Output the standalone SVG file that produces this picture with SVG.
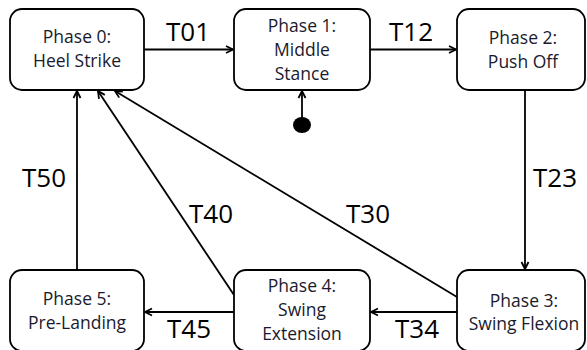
<svg xmlns="http://www.w3.org/2000/svg" width="587" height="350" viewBox="0 0 587 350">
<style>
.box{fill:#fff;stroke:#000;stroke-width:1.8}
.t{font-family:"Open Sans","Liberation Sans",sans-serif;font-size:17.5px;fill:#1a1a2e;text-anchor:middle}
.l{font-family:"Open Sans","Liberation Sans",sans-serif;font-size:26px;fill:#000;text-anchor:middle}
.e{stroke:#000;stroke-width:1.8;fill:none;marker-end:url(#ah)}
</style>
<defs>
<marker id="ah" viewBox="0 0 10 10" refX="9" refY="5" markerWidth="10" markerHeight="10" markerUnits="userSpaceOnUse" orient="auto">
<path d="M2,1.5 L9,5 L2,8.5" fill="none" stroke="#000" stroke-width="1.8"/>
</marker>
</defs>
<rect width="587" height="350" fill="#fff"/>
<g id="connectors">
<line class="e" x1="144" y1="49.5" x2="233" y2="49.5"/>
<line class="e" x1="370" y1="49.5" x2="456" y2="49.5"/>
<line class="e" x1="525" y1="90" x2="525" y2="269"/>
<line class="e" x1="457" y1="312" x2="371" y2="312"/>
<line class="e" x1="234" y1="312" x2="145" y2="312"/>
<line class="e" x1="77" y1="270" x2="77" y2="91"/>
<line class="e" x1="234" y1="295" x2="98" y2="91"/>
<line class="e" x1="457" y1="297" x2="115" y2="91"/>
<line class="e" x1="302" y1="125" x2="302" y2="91"/>
<ellipse cx="302" cy="125" rx="9" ry="8" fill="#000"/>
<text class="l" x="188" y="41">T01</text>
<text class="l" x="411" y="41">T12</text>
<text class="l" x="555" y="187">T23</text>
<text class="l" x="417" y="338">T34</text>
<text class="l" x="189" y="338">T45</text>
<text class="l" x="44" y="187">T50</text>
<text class="l" x="211" y="223">T40</text>
<text class="l" x="368" y="223">T30</text>
</g>
<g id="phase0">
<rect class="box" x="10" y="9" width="134" height="81" rx="12"/>
<text class="t" x="77" y="43">Phase 0:</text>
<text class="t" x="77" y="67">Heel Strike</text>
</g>
<g id="phase1">
<rect class="box" x="234" y="9" width="136" height="81" rx="12"/>
<text class="t" x="302" y="32">Phase 1:</text>
<text class="t" x="302" y="56">Middle</text>
<text class="t" x="302" y="80">Stance</text>
</g>
<g id="phase2">
<rect class="box" x="457" y="9" width="128" height="81" rx="12"/>
<text class="t" x="523" y="44">Phase 2:</text>
<text class="t" x="523" y="68">Push Off</text>
</g>
<g id="phase3">
<rect class="box" x="457" y="270" width="128" height="81" rx="12"/>
<text class="t" x="524" y="307">Phase 3:</text>
<text class="t" x="524" y="330">Swing Flexion</text>
</g>
<g id="phase4">
<rect class="box" x="234" y="270" width="136" height="81" rx="12"/>
<text class="t" x="302" y="292">Phase 4:</text>
<text class="t" x="302" y="316">Swing</text>
<text class="t" x="302" y="340">Extension</text>
</g>
<g id="phase5">
<rect class="box" x="10" y="270" width="134" height="81" rx="12"/>
<text class="t" x="77" y="305">Phase 5:</text>
<text class="t" x="77" y="329">Pre-Landing</text>
</g>
</svg>
